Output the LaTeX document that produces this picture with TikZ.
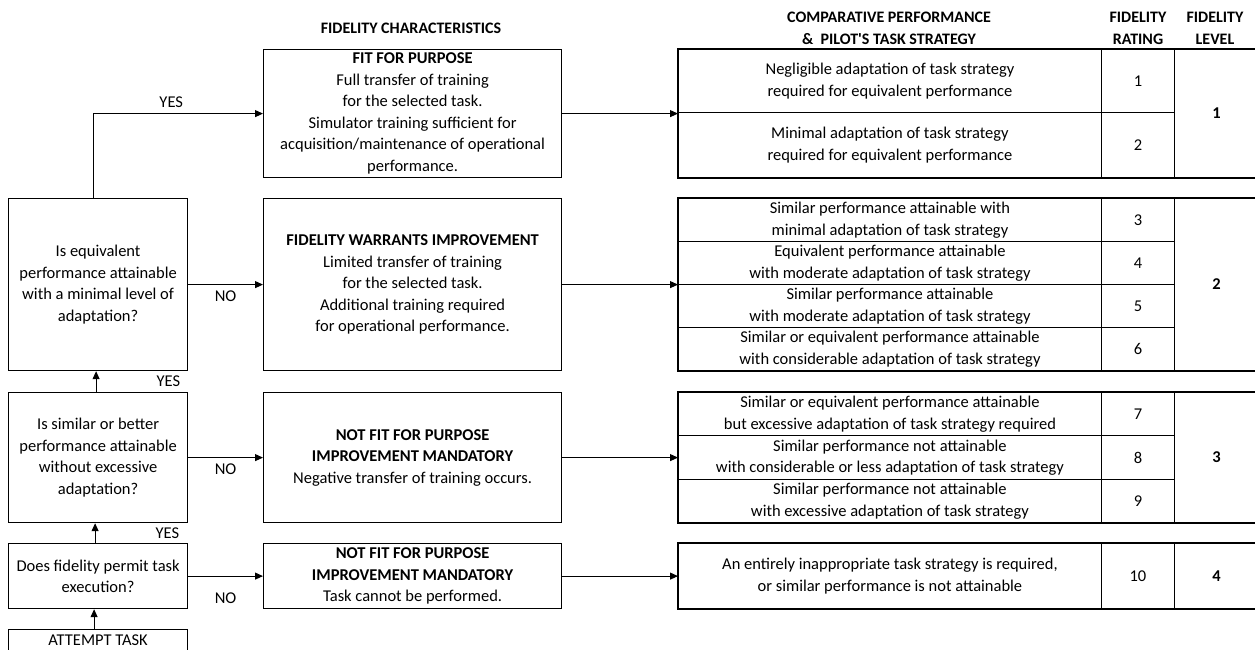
\documentclass[tikz,border=0pt]{standalone}
\usepackage{fontspec}
\setmainfont{Carlito}
\usetikzlibrary{arrows.meta}

\begin{document}
\begin{tikzpicture}[
        x=1pt, y=-1pt,
        every node/.style={font=\fontsize{16.5}{21.5}\selectfont},
        box/.style={draw, line width=1.2pt, align=center, inner sep=0pt, anchor=north west},
        question/.style={box, minimum width=179pt},
        character/.style={box, minimum width=298pt},
        cell/.style={draw, line width=0.9pt, align=center, inner sep=0pt, anchor=north west, minimum width=423pt},
        rating/.style={cell, minimum width=73pt},
        level/.style={cell, minimum width=84pt, font=\fontsize{16.5}{21.5}\selectfont\bfseries},
        heading/.style={align=center, font=\fontsize{16}{22}\selectfont\bfseries},
        answer/.style={inner sep=0pt},
        arrow/.style={line width=1pt, -{Triangle[length=8pt,width=7pt]}},
        ]
    \clip (0,0) rectangle (1255,650);

    % headings
    \node[heading] (hchar) at (411,28) {FIDELITY CHARACTERISTICS};
    \node[heading] (hcomp) at (889,28) {COMPARATIVE PERFORMANCE\\\&\ \ PILOT\textquotesingle S TASK STRATEGY};
    \node[heading] (hrate) at (1138,28) {FIDELITY\\RATING};
    \node[heading] (hlevel) at (1215,28) {FIDELITY\\LEVEL};

    % decision boxes
    \node[question, minimum height=172pt] (q1) at (8,198)
        {Is equivalent\\performance attainable\\with a minimal level of\\adaptation?};
    \node[question, minimum height=130pt] (q2) at (8,392)
        {Is similar or better\\performance attainable\\without excessive\\adaptation?};
    \node[question, minimum height=65pt] (q3) at (8,543)
        {Does fidelity permit task\\execution?};
    \node[question, minimum height=40pt, anchor=north west, text depth=18pt] (att) at (8,629)
        {ATTEMPT TASK};

    % fidelity characteristics
    \node[character, minimum height=128pt] (fp) at (263,49)
        {\textbf{FIT FOR PURPOSE}\\Full transfer of training\\for the selected task.\\Simulator training sufficient for\\acquisition/maintenance of operational\\performance.};
    \node[character, minimum height=172pt] (fwi) at (263,198)
        {\textbf{FIDELITY WARRANTS IMPROVEMENT}\\Limited transfer of training\\for the selected task.\\Additional training required\\for operational performance.};
    \node[character, minimum height=130pt] (nfp) at (263,392)
        {\textbf{NOT FIT FOR PURPOSE}\\\textbf{IMPROVEMENT MANDATORY}\\Negative transfer of training occurs.};
    \node[character, minimum height=65pt] (nfpx) at (263,543)
        {\textbf{NOT FIT FOR PURPOSE}\\\textbf{IMPROVEMENT MANDATORY}\\Task cannot be performed.};

    % level 1
    \node[cell, minimum height=63pt] (t1) at (678,49)
        {Negligible adaptation of task strategy\\required for equivalent performance};
    \node[cell, minimum height=65pt] (t2) at (678,112)
        {Minimal adaptation of task strategy\\required for equivalent performance};
    \node[rating, minimum height=63pt] (r1) at (1101,49) {1};
    \node[rating, minimum height=65pt] (r2) at (1101,112) {2};
    \node[level, minimum height=128pt] (l1) at (1174,49) {1};

    % level 2
    \node[cell, minimum height=43pt] (t3) at (678,198)
        {Similar performance attainable with\\minimal adaptation of task strategy};
    \node[cell, minimum height=43pt] (t4) at (678,241)
        {Equivalent performance attainable\\with moderate adaptation of task strategy};
    \node[cell, minimum height=43pt] (t5) at (678,284)
        {Similar performance attainable\\with moderate adaptation of task strategy};
    \node[cell, minimum height=43pt] (t6) at (678,327)
        {Similar or equivalent performance attainable\\with considerable adaptation of task strategy};
    \node[rating, minimum height=43pt] (r3) at (1101,198) {3};
    \node[rating, minimum height=43pt] (r4) at (1101,241) {4};
    \node[rating, minimum height=43pt] (r5) at (1101,284) {5};
    \node[rating, minimum height=43pt] (r6) at (1101,327) {6};
    \node[level, minimum height=172pt] (l2) at (1174,198) {2};

    % level 3
    \node[cell, minimum height=43pt] (t7) at (678,392)
        {Similar or equivalent performance attainable\\but excessive adaptation of task strategy required};
    \node[cell, minimum height=44pt] (t8) at (678,435)
        {Similar performance not attainable\\with considerable or less adaptation of task strategy};
    \node[cell, minimum height=43pt] (t9) at (678,479)
        {Similar performance not attainable\\with excessive adaptation of task strategy};
    \node[rating, minimum height=43pt] (r7) at (1101,392) {7};
    \node[rating, minimum height=44pt] (r8) at (1101,435) {8};
    \node[rating, minimum height=43pt] (r9) at (1101,479) {9};
    \node[level, minimum height=130pt] (l3) at (1174,392) {3};

    % level 4
    \node[cell, minimum height=65pt] (t10) at (678,543)
        {An entirely inappropriate task strategy is required,\\or similar performance is not attainable};
    \node[rating, minimum height=65pt] (r10) at (1101,543) {10};
    \node[level, minimum height=65pt] (l4) at (1174,543) {4};

    % outer frames of the table groups
    \draw[line width=1.2pt] (t1.north west) rectangle (l1.south east);
    \draw[line width=1.2pt] (t3.north west) rectangle (l2.south east);
    \draw[line width=1.2pt] (t7.north west) rectangle (l3.south east);
    \draw[line width=1.2pt] (t10.north west) rectangle (l4.south east);

    % decisions
    \draw[arrow] ([xshift=-4pt]att.north) -- ([xshift=-4pt]q3.south);
    \draw[arrow] ([xshift=-3pt]q3.north) -- ([xshift=-3pt]q2.south) node[answer, midway, right=60pt] {YES};
    \draw[arrow] ([xshift=-2pt]q2.north) -- ([xshift=-2pt]q1.south) node[answer, midway, right=60pt] {YES};
    \draw[arrow] ([xshift=-5pt]q1.north) |- (fp.west) node[answer, pos=0.73, above=5pt] {YES};
    \draw[arrow] (q1.east) -- (fwi.west) node[answer, midway, below=6pt] {NO};
    \draw[arrow] (q2.east) -- (nfp.west) node[answer, midway, below=6pt] {NO};
    \draw[arrow] (q3.east) -- (nfpx.west) node[answer, midway, below=16pt] {NO};

    % to the table
    \draw[arrow] (fp.east) -- (fp.east -| t1.west);
    \draw[arrow] (fwi.east) -- (fwi.east -| t3.west);
    \draw[arrow] (nfp.east) -- (nfp.east -| t7.west);
    \draw[arrow] (nfpx.east) -- (nfpx.east -| t10.west);
\end{tikzpicture}
\end{document}
